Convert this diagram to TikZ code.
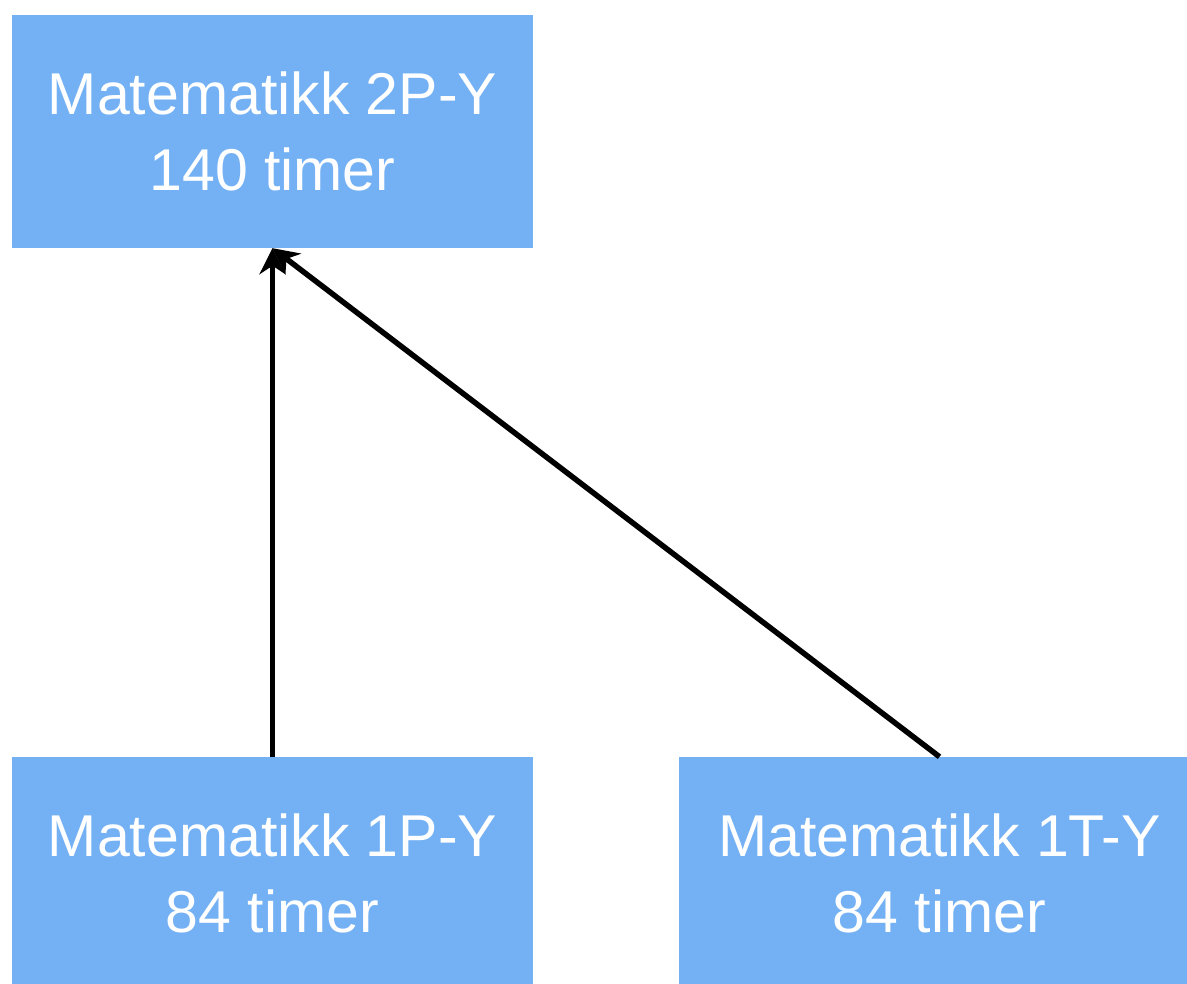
\documentclass[tikz,border=0pt]{standalone}
\usepackage{fontspec}
\setmainfont{Liberation Sans}
\usetikzlibrary{arrows.meta}
\definecolor{boxblue}{HTML}{74B1F4}
\begin{document}
\begin{tikzpicture}[x=1pt,y=-1pt,
  course/.style={fill=boxblue, draw=none, minimum width=521pt, minimum height=233pt, inner sep=0pt,
    align=center, text=white, font=\fontsize{59}{76}\selectfont},
  link/.style={line width=5.5pt, -{Stealth[length=26pt,width=26pt]}}]
\useasboundingbox (0,0) rectangle (1187,984);
\clip (0,0) rectangle (1187,984);
\node[course] (top) at (272.5,131.5) {Matematikk 2P-Y\\140 timer};
\node[course] (left) at (272.5,873.5) {Matematikk 1P-Y\\84 timer};
\node[course] (right) at (939.5,873.5) {Matematikk 1T-Y\\84 timer};
\draw[link] (left.north) -- (top.south);
\draw[link] (right.north) -- (top.south);
\end{tikzpicture}
\end{document}
